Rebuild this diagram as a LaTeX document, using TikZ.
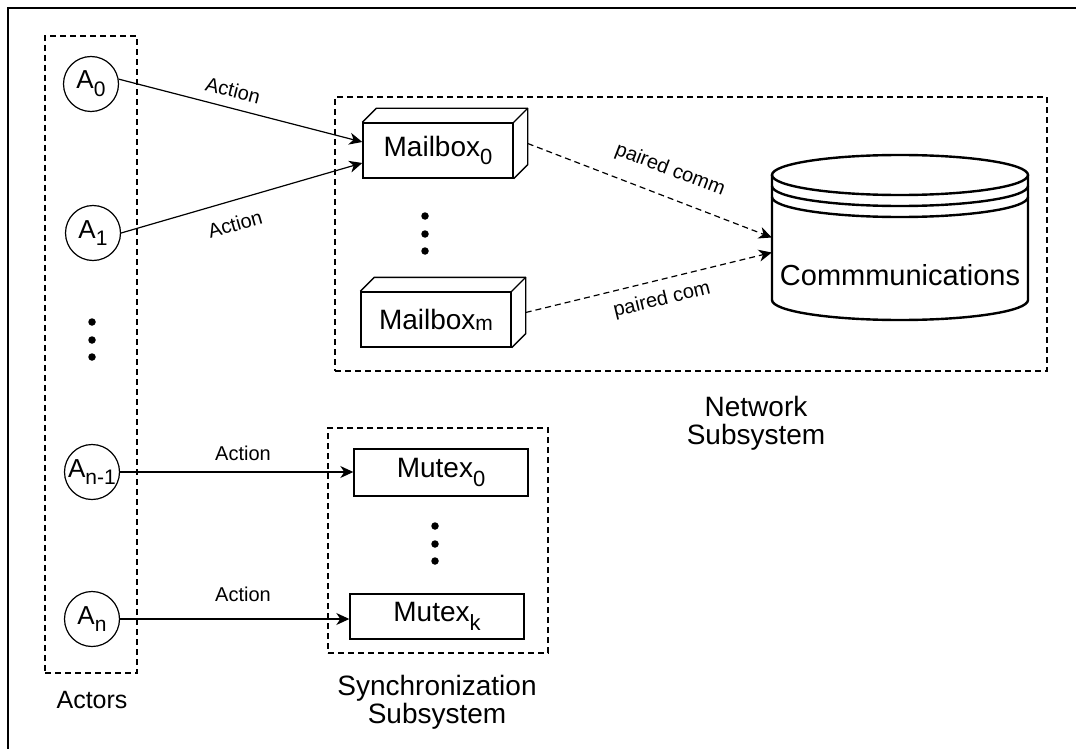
\documentclass[tikz,border=0pt]{standalone}
\usepackage{fontspec}
\setmainfont{Liberation Sans}
\usetikzlibrary{arrows.meta,calc}
\newcommand\fsz[1]{\fontsize{#1}{#1}\selectfont}
\newcommand\subx[2]{\raisebox{-0.3em}{\fontsize{#1}{#1}\selectfont #2}}
\begin{document}
\begin{tikzpicture}[x=1pt,y=-1pt,
  dbox/.style={draw, dash pattern=on 6pt off 4pt, line width=1.2pt, inner sep=0pt},
  actor/.style={circle, draw, line width=1.2pt, minimum size=55pt, inner sep=0pt, font=\fsz{26}},
  cubebox/.style={draw, line width=1.4pt, inner sep=0pt, minimum width=150pt, minimum height=55pt, font=\fsz{28}},
  cubeline/.style={line width=1.4pt, line join=round},
  mutexbox/.style={draw, line width=1.4pt, inner sep=0pt, minimum width=174pt, font=\fsz{28}},
  conn/.style={line width=1.2pt, -{Stealth[length=13pt,width=12pt,inset=4pt]}},
  dconn/.style={conn, dash pattern=on 6pt off 4pt},
  lab/.style={font=\fsz{20}, inner sep=0pt},
  biglab/.style={font=\fsz{28}, align=center, inner sep=0pt},
  dotn/.style={circle, fill=black, inner sep=0pt, minimum size=7.5pt},
  cylline/.style={line width=2.4pt}]
\useasboundingbox (0,0) rectangle (1076,749);
% outer frame
\draw[line width=1.5pt] (1080,8) -- (8,8) -- (8,753);

% group boxes
\node[dbox, minimum width=92pt, minimum height=637pt] (actors) at (91,354.5) {};
\node[dbox, minimum width=712pt, minimum height=274pt] (net) at (691,234) {};
\node[dbox, minimum width=220pt, minimum height=225pt] (sync) at (438,540.5) {};

% actors
\node[actor] (a0) at (91,84) {A\subx{21}{0}};
\node[actor] (a1) at (93,233) {A\subx{21}{1}};
\node[actor] (an1) at (92,472) {A\subx{21}{n-1}};
\node[actor] (an) at (92,619) {A\subx{21}{n}};
\node[dotn] (ad1) at (92,322) {};
\node[dotn] (ad2) at (92,340) {};
\node[dotn] (ad3) at (92,357) {};

% mailboxes
\node[cubebox] (mb0) at (438,150.5) {Mailbox\subx{22}{0}};
\draw[cubeline] (mb0.north west) -- ++(14,-14) -| ($(mb0.south east)+(14,-14)$) -- (mb0.south east);
\draw[cubeline] (mb0.north east) -- ++(14,-14);
\node[cubebox] (mbm) at (436,319.5) {Mailbox\raisebox{-1pt}{\fsz{21}m}};
\draw[cubeline] (mbm.north west) -- ++(14,-14) -| ($(mbm.south east)+(14,-14)$) -- (mbm.south east);
\draw[cubeline] (mbm.north east) -- ++(14,-14);
\node[dotn] (md1) at (425,216) {};
\node[dotn] (md2) at (425,234) {};
\node[dotn] (md3) at (425,251) {};
\coordinate (mb0e) at ($(mb0.east)+(14,-7)$);
\coordinate (mbme) at ($(mbm.east)+(14,-7)$);

% communications cylinder
\node[minimum width=256pt, minimum height=165pt, inner sep=0pt] (cyl) at (900,237.5) {};
\draw[cylline] (900,175) ellipse [x radius=128pt, y radius=20pt];
\draw[cylline] (772,186) arc[start angle=180, end angle=360, x radius=128pt, y radius=20pt];
\draw[cylline] (772,197) arc[start angle=180, end angle=360, x radius=128pt, y radius=20pt];
\draw[cylline] (772,175) -- (772,300) arc[start angle=180, end angle=360, x radius=128pt, y radius=20pt] -- (1028,175);
\node[font=\fsz{29}, inner sep=0pt] (commtxt) at (900,275) {Commmunications};

% mutexes
\node[mutexbox, minimum height=47pt] (mx0) at (441,472.5) {Mutex\subx{22}{0}};
\node[mutexbox, minimum height=45pt] (mxk) at (437,616.5) {Mutex\subx{22}{k}};
\node[dotn] (xd1) at (435,526) {};
\node[dotn] (xd2) at (435,544) {};
\node[dotn] (xd3) at (435,561) {};

% connectors
\draw[conn] (a0.10) -- ($(mb0.west)+(0,-8.5)$);
\draw[conn] (a1.east) -- ($(mb0.west)+(0,12.5)$);
\draw[conn] (an1.east) -- (an1.east -| mx0.west);
\draw[conn] (an.east) -- (an.east -| mxk.west);
\draw[dconn] (mb0e) -- ($(cyl.west)+(0,0)$);
\draw[dconn] (mbme) -- ($(cyl.west)+(0,15)$);

% connector labels
\node[lab, rotate=-14.4] (l0) at (233,90) {Action};
\node[lab, rotate=16] (l1) at (235,224) {Action};
\node[lab] (l2) at (243,453) {Action};
\node[lab] (l3) at (243,594) {Action};
\node[lab, rotate=-21] (l4) at (670,170) {paired comm};
\node[lab, rotate=13.7] (l5) at (662,300) {paired com};

% group labels
\node[font=\fsz{25}, inner sep=0pt] (actlab) at (92,700) {Actors};
\node[biglab] (netlab) at (756,423) {Network\\Subsystem};
\node[biglab] (synclab) at (437,702) {Synchronization\\Subsystem};
\end{tikzpicture}
\end{document}
